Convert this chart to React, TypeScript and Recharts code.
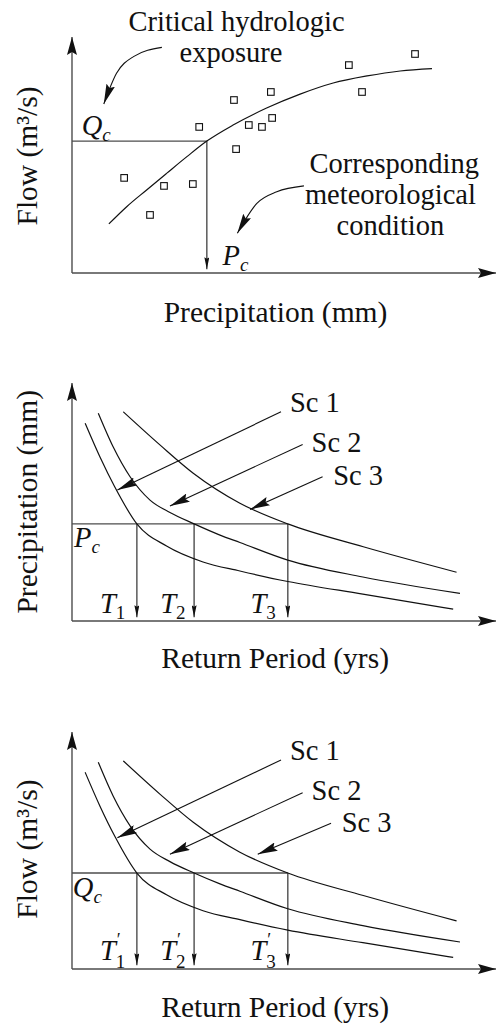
import React from "react";
import { ComposedChart, Line, Scatter, XAxis, YAxis } from "recharts";

type Pt = { x: number; y: number };

// --- panel 1: flow vs precipitation -------------------------------------
const observed: Pt[] = [
  { x: 12.3, y: 40.3 }, { x: 21.7, y: 36.9 }, { x: 28.5, y: 37.7 },
  { x: 18.4, y: 24.6 }, { x: 30.0, y: 61.9 }, { x: 38.2, y: 73.3 },
  { x: 38.7, y: 52.5 }, { x: 41.7, y: 62.7 }, { x: 44.8, y: 61.9 },
  { x: 46.9, y: 76.7 }, { x: 47.2, y: 65.7 }, { x: 65.3, y: 88.1 },
  { x: 68.4, y: 76.7 }, { x: 80.9, y: 92.8 },
];
const fitted: Pt[] = [
  { x: 8.7, y: 20.8 }, { x: 12.9, y: 28.1 }, { x: 17.6, y: 35.2 },
  { x: 22.3, y: 42.2 }, { x: 27.1, y: 49.3 }, { x: 31.8, y: 55.9 },
  { x: 38.0, y: 62.7 }, { x: 45.9, y: 69.9 }, { x: 53.8, y: 75.8 },
  { x: 61.6, y: 80.5 }, { x: 69.6, y: 83.5 }, { x: 77.4, y: 85.6 },
  { x: 84.9, y: 86.6 },
];
const criticalFlow = 55.9;
const criticalPrecip = 31.8;

// --- panel 2: precipitation vs return period ------------------------------
const precipSc1: Pt[] = [
  { x: 3.1, y: 83.1 }, { x: 6.6, y: 68.9 }, { x: 10.1, y: 56.3 },
  { x: 15.3, y: 40.8 }, { x: 22.3, y: 31.5 }, { x: 30.9, y: 24.8 },
  { x: 39.6, y: 21.0 }, { x: 50.9, y: 16.6 }, { x: 68.6, y: 11.3 },
  { x: 89.9, y: 5.0 },
];
const precipSc2: Pt[] = [
  { x: 6.2, y: 87.3 }, { x: 9.7, y: 73.2 }, { x: 13.7, y: 60.6 },
  { x: 18.4, y: 50.8 }, { x: 23.1, y: 45.6 }, { x: 28.8, y: 40.8 },
  { x: 34.9, y: 36.1 }, { x: 39.6, y: 33.0 }, { x: 50.9, y: 25.6 },
  { x: 68.6, y: 18.5 }, { x: 91.5, y: 11.6 },
];
const precipSc3: Pt[] = [
  { x: 12.1, y: 87.9 }, { x: 20.8, y: 73.9 }, { x: 28.6, y: 62.1 },
  { x: 39.6, y: 49.5 }, { x: 50.9, y: 40.8 }, { x: 68.7, y: 31.2 },
  { x: 90.7, y: 20.5 },
];
const precipLevel = 40.8;
const precipPeriods = [15.3, 28.8, 50.9];

// --- panel 3: flow vs return period ---------------------------------------
const flowSc1: Pt[] = [
  { x: 3.1, y: 83.0 }, { x: 6.6, y: 68.7 }, { x: 10.1, y: 56.0 },
  { x: 15.3, y: 40.5 }, { x: 22.3, y: 31.3 }, { x: 30.9, y: 24.6 },
  { x: 39.6, y: 20.8 }, { x: 50.9, y: 16.4 }, { x: 68.6, y: 11.1 },
  { x: 89.9, y: 4.9 },
];
const flowSc2: Pt[] = [
  { x: 6.2, y: 87.2 }, { x: 9.7, y: 73.0 }, { x: 13.7, y: 60.4 },
  { x: 18.4, y: 50.6 }, { x: 23.1, y: 45.3 }, { x: 28.8, y: 40.5 },
  { x: 34.9, y: 35.9 }, { x: 39.6, y: 32.8 }, { x: 50.9, y: 25.4 },
  { x: 68.6, y: 18.3 }, { x: 91.5, y: 11.4 },
];
const flowSc3: Pt[] = [
  { x: 12.1, y: 87.8 }, { x: 20.8, y: 73.7 }, { x: 28.6, y: 61.9 },
  { x: 39.6, y: 49.3 }, { x: 50.9, y: 40.5 }, { x: 68.7, y: 31.0 },
  { x: 90.7, y: 20.3 },
];
const flowLevel = 40.5;
const flowPeriods = [15.3, 28.8, 50.9];

// --- layout ---------------------------------------------------------------
const W = 496;
const INK = "#111";
const GREY = "#4d4d4d";
const FONT = "'Liberation Serif', 'DejaVu Serif', serif";
const X_DOMAIN: [number, number] = [-16.98, 100];
const DROP_END = 1.6;

const frame = (height: number, originY: number, unitY: number) => ({
  height,
  domain: [-(height - originY) / unitY, originY / unitY] as [number, number],
});
const frame1 = frame(340, 273, 2.36);
const frame2 = frame(340, 281, 2.38);
const frame3 = frame(348, 289, 2.37);

type Annot = {
  x: number; y: number;
  text?: string; sym?: string; sub?: string;
  prime?: boolean; italicSub?: boolean; title?: boolean;
  anchor?: "start" | "middle" | "end"; rotate?: boolean;
};

const annots1: Annot[] = [
  { x: 38.8, y: 102.7, text: "Critical hydrologic", anchor: "middle" },
  { x: 37.5, y: 89.5, text: "exposure", anchor: "middle" },
  { x: 2.3, y: 58.5, sym: "Q", sub: "c", italicSub: true },
  { x: 76.0, y: 42.2, text: "Corresponding", anchor: "middle" },
  { x: 75.1, y: 29.2, text: "meteorological", anchor: "middle" },
  { x: 75.1, y: 16.1, text: "condition", anchor: "middle" },
  { x: 35.5, y: 3.4, sym: "P", sub: "c", italicSub: true },
  { x: 48.0, y: -20.6, text: "Precipitation (mm)", anchor: "middle", title: true },
  { x: -8.25, y: 49.6, text: "Flow (m³/s)", rotate: true, title: true },
];
const pointers1: Pt[][] = [
  [{ x: 7.5, y: 71.6 }, { x: 10.5, y: 84.6 }, { x: 14.5, y: 91.7 }, { x: 21.2, y: 95.6 }],
  [{ x: 39.0, y: 16.8 }, { x: 43.6, y: 29.5 }, { x: 48.3, y: 34.4 }, { x: 54.7, y: 36.9 }],
];

const annots2: Annot[] = [
  { x: 51.4, y: 87.9, text: "Sc 1" },
  { x: 56.5, y: 71.1, text: "Sc 2" },
  { x: 61.6, y: 57.1, text: "Sc 3" },
  { x: 0.5, y: 31.0, sym: "P", sub: "c", italicSub: true },
  { x: 6.6, y: 3.5, sym: "T", sub: "1" },
  { x: 20.8, y: 3.5, sym: "T", sub: "2" },
  { x: 42.1, y: 3.5, sym: "T", sub: "3" },
  { x: 47.9, y: -19.7, text: "Return Period (yrs)", anchor: "middle", title: true },
  { x: -8.25, y: 50.1, text: "Precipitation (mm)", rotate: true, title: true },
];
const pointers2: Pt[][] = [
  [{ x: 49.3, y: 87.9 }, { x: 10.7, y: 55.0 }],
  [{ x: 54.4, y: 74.2 }, { x: 23.1, y: 48.3 }],
  [{ x: 59.1, y: 60.6 }, { x: 42.0, y: 46.9 }],
];

const annots3: Annot[] = [
  { x: 51.4, y: 88.2, text: "Sc 1" },
  { x: 56.5, y: 71.4, text: "Sc 2" },
  { x: 63.6, y: 57.7, text: "Sc 3" },
  { x: 0.2, y: 30.5, sym: "Q", sub: "c", italicSub: true },
  { x: 6.6, y: 3.8, sym: "T", sub: "1", prime: true },
  { x: 20.8, y: 3.8, sym: "T", sub: "2", prime: true },
  { x: 42.1, y: 3.8, sym: "T", sub: "3", prime: true },
  { x: 47.9, y: -20.1, text: "Return Period (yrs)", anchor: "middle", title: true },
  { x: -8.25, y: 50.6, text: "Flow (m³/s)", rotate: true, title: true },
];
const pointers3: Pt[][] = [
  [{ x: 49.3, y: 88.2 }, { x: 10.7, y: 55.4 }],
  [{ x: 54.4, y: 74.4 }, { x: 23.1, y: 48.4 }],
  [{ x: 61.1, y: 61.5 }, { x: 43.8, y: 48.4 }],
];

// --- drawing helpers ------------------------------------------------------
const markers = (id: string) => (
  <defs>
    <marker id={`${id}-ax`} viewBox="0 0 18 10" refX={18} refY={5} markerWidth={18} markerHeight={10}
      markerUnits="userSpaceOnUse" orient="auto-start-reverse">
      <path d="M0,0 L18,5 L0,10 L3,5 Z" fill={INK} />
    </marker>
    <marker id={`${id}-big`} viewBox="0 0 20 9" refX={20} refY={4.5} markerWidth={20} markerHeight={9}
      markerUnits="userSpaceOnUse" orient="auto-start-reverse">
      <path d="M0,0 L20,4.5 L0,9 L3,4.5 Z" fill={INK} />
    </marker>
    <marker id={`${id}-sm`} viewBox="0 0 12 5" refX={12} refY={2.5} markerWidth={12} markerHeight={5}
      markerUnits="userSpaceOnUse" orient="auto-start-reverse">
      <path d="M0,0 L12,2.5 L0,5 L1.5,2.5 Z" fill={INK} />
    </marker>
  </defs>
);

type SegOpts = { stroke?: string; width?: number; type?: "linear" | "monotone"; end?: string; start?: string };
const seg = (key: string, data: Pt[], o: SegOpts = {}) => (
  <Line
    key={key}
    data={data}
    dataKey="y"
    type={o.type ?? "linear"}
    stroke={o.stroke ?? INK}
    strokeWidth={o.width ?? 1.1}
    dot={false}
    activeDot={false}
    legendType="none"
    isAnimationActive={false}
    markerEnd={o.end}
    markerStart={o.start}
  />
);

const axes = (id: string) => [
  seg(`${id}-xa`, [{ x: 0, y: 0 }, { x: 100, y: 0 }], { stroke: GREY, width: 1.4, end: `url(#${id}-ax)` }),
  seg(`${id}-ya`, [{ x: 0, y: 0 }, { x: 0, y: 100 }], { stroke: GREY, width: 1.4, end: `url(#${id}-ax)` }),
];

const square = (p: any) => (
  <rect x={p.cx - 3.3} y={p.cy - 3.3} width={6.6} height={6.6} fill="#fff" stroke={INK} strokeWidth={1.1} />
);

const textStyle = { fontFamily: FONT, fontSize: 28.5, fill: INK };
const titleStyle = { ...textStyle, fontSize: 29.5 };

const annotText = (p: any) => {
  const a: Annot = p.payload;
  const { cx, cy } = p;
  const style = a.title ? titleStyle : textStyle;
  if (a.rotate) {
    return (
      <text style={style} transform={`translate(${cx},${cy}) rotate(-90)`} textAnchor="middle">
        {a.text}
      </text>
    );
  }
  if (a.sym) {
    return (
      <text style={style} x={cx} y={cy}>
        <tspan fontStyle="italic">{a.sym}</tspan>
        {a.prime ? <tspan style={{ fontSize: 18 }} dy={-14} dx={1}>′</tspan> : null}
        <tspan
          style={{ fontSize: 19, fontStyle: a.italicSub ? "italic" : "normal" }}
          dx={a.prime ? -5 : 0}
          dy={a.prime ? 22 : 6}
        >
          {a.sub}
        </tspan>
      </text>
    );
  }
  return (
    <text style={style} x={cx} y={cy} textAnchor={a.anchor ?? "start"}>
      {a.text}
    </text>
  );
};

const chartAxes = (domain: [number, number]) => [
  <XAxis key="x" type="number" dataKey="x" domain={X_DOMAIN} allowDataOverflow hide />,
  <YAxis key="y" type="number" dataKey="y" domain={domain} allowDataOverflow hide />,
];

const NO_MARGIN = { top: 0, right: 0, bottom: 0, left: 0 };

function ScatterPanel() {
  const id = "p1";
  return (
    <ComposedChart width={W} height={frame1.height} margin={NO_MARGIN}>
      {markers(id)}
      {chartAxes(frame1.domain)}
      {axes(id)}
      {seg("qc", [{ x: 0, y: criticalFlow }, { x: criticalPrecip, y: criticalFlow }], { stroke: GREY, width: 1.4 })}
      {seg("pc", [{ x: criticalPrecip, y: criticalFlow }, { x: criticalPrecip, y: DROP_END }], {
        stroke: GREY, width: 1.4, end: `url(#${id}-sm)`,
      })}
      {seg("fit", fitted, { type: "monotone", width: 1.2 })}
      <Scatter data={observed} shape={square} isAnimationActive={false} />
      {pointers1.map((p, i) => seg(`ptr${i}`, p, { type: "monotone", width: 1.1, start: `url(#${id}-big)` }))}
      <Scatter data={annots1} shape={annotText} isAnimationActive={false} />
    </ComposedChart>
  );
}

type ReturnProps = {
  id: string;
  fr: { height: number; domain: [number, number] };
  curves: Pt[][];
  level: number;
  periods: number[];
  pointers: Pt[][];
  annots: Annot[];
};

function ReturnPanel({ id, fr, curves, level, periods, pointers, annots }: ReturnProps) {
  const last = periods[periods.length - 1];
  return (
    <ComposedChart width={W} height={fr.height} margin={NO_MARGIN}>
      {markers(id)}
      {chartAxes(fr.domain)}
      {axes(id)}
      {seg("lvl", [{ x: 0, y: level }, { x: last, y: level }], { stroke: GREY, width: 1.4 })}
      {periods.map((t, i) =>
        seg(`t${i}`, [{ x: t, y: level }, { x: t, y: DROP_END }], { stroke: GREY, width: 1.4, end: `url(#${id}-sm)` })
      )}
      {curves.map((c, i) => seg(`sc${i}`, c, { type: "monotone", width: 1.2 }))}
      {pointers.map((p, i) => seg(`ptr${i}`, p, { width: 1.1, end: `url(#${id}-big)` }))}
      <Scatter data={annots} shape={annotText} isAnimationActive={false} />
    </ComposedChart>
  );
}

export default function App() {
  return (
    <div style={{ position: "absolute", left: 0, top: 0, width: W, height: 1028, background: "#fff" }}>
      <ScatterPanel />
      <ReturnPanel
        id="p2"
        fr={frame2}
        curves={[precipSc1, precipSc2, precipSc3]}
        level={precipLevel}
        periods={precipPeriods}
        pointers={pointers2}
        annots={annots2}
      />
      <ReturnPanel
        id="p3"
        fr={frame3}
        curves={[flowSc1, flowSc2, flowSc3]}
        level={flowLevel}
        periods={flowPeriods}
        pointers={pointers3}
        annots={annots3}
      />
    </div>
  );
}
